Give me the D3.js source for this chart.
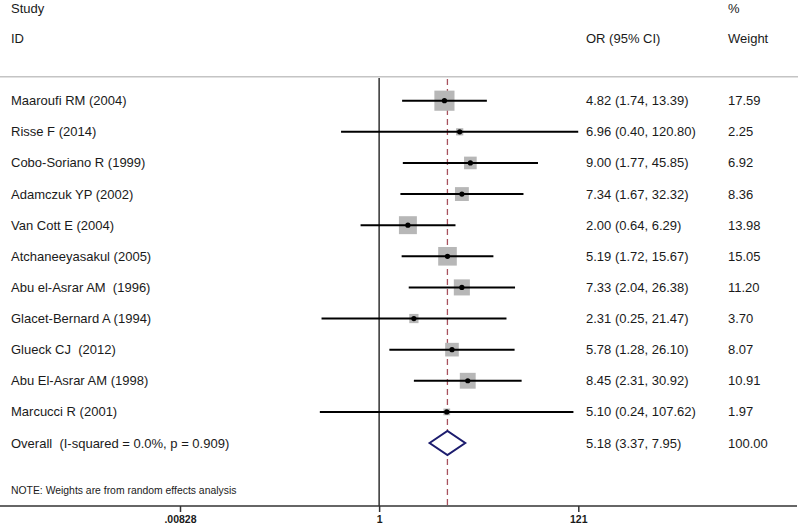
<!DOCTYPE html>
<html>
<head>
<meta charset="utf-8">
<script src="https://cdn.jsdelivr.net/npm/d3@7"></script>
<style>
  html, body { margin: 0; padding: 0; background: #fff; }
  svg { display: block; }
  text { font-family: "Liberation Sans", Arial, sans-serif; fill: #1a1a1a; white-space: pre; }
</style>
</head>
<body>
<svg id="chart" width="800" height="530"></svg>
<script>
// ---- Data ----
const studies = ["Maaroufi RM (2004)", "Risse F (2014)", "Cobo-Soriano R (1999)", "Adamczuk YP (2002)",
  "Van Cott E (2004)", "Atchaneeyasakul (2005)", "Abu el-Asrar AM  (1996)", "Glacet-Bernard A (1994)",
  "Glueck CJ  (2012)", "Abu El-Asrar AM (1998)", "Marcucci R (2001)"];
const oddsRatio = [4.82, 6.96, 9.00, 7.34, 2.00, 5.19, 7.33, 2.31, 5.78, 8.45, 5.10];
const ciLower   = [1.74, 0.40, 1.77, 1.67, 0.64, 1.72, 2.04, 0.25, 1.28, 2.31, 0.24];
const ciUpper   = [13.39, 120.80, 45.85, 32.32, 6.29, 15.67, 26.38, 21.47, 26.10, 30.92, 107.62];
const weights   = [17.59, 2.25, 6.92, 8.36, 13.98, 15.05, 11.20, 3.70, 8.07, 10.91, 1.97];
const overallLabel = "Overall  (I-squared = 0.0%, p = 0.909)";
const overallOR = 5.18, overallLower = 3.37, overallUpper = 7.95, overallWeight = 100.00;
const tickValues = [0.00828, 1, 121];
const tickLabels = [".00828", "1", "121"];
const noteText = "NOTE: Weights are from random effects analysis";

// ---- Layout ----
const svg = d3.select("#chart");
const x = d3.scaleLog().domain([0.00828, 121]).range([180, 578.3]);
const y = d3.scaleLinear().domain([0, 11]).range([100.7, 443]);
const axisY = 506;
const fmt = d3.format(".2f");

// Headers
const hdr = svg.append("g").attr("font-size", 13);
hdr.append("text").attr("x", 11).attr("y", 8).attr("dy", "0.35em").text("Study");
hdr.append("text").attr("x", 11).attr("y", 38).attr("dy", "0.35em").text("ID");
hdr.append("text").attr("x", 586).attr("y", 38).attr("dy", "0.35em").text("OR (95% CI)");
hdr.append("text").attr("x", 728).attr("y", 8).attr("dy", "0.35em").text("%");
hdr.append("text").attr("x", 728).attr("y", 38).attr("dy", "0.35em").text("Weight");

// Separator line
svg.append("line").attr("x1", 0).attr("x2", 798).attr("y1", 76.7).attr("y2", 76.7)
  .attr("stroke", "#c4c4c4").attr("stroke-width", 1.5);

// Null line at 1
svg.append("line").attr("x1", x(1)).attr("x2", x(1)).attr("y1", 78).attr("y2", axisY)
  .attr("stroke", "#111").attr("stroke-width", 1.3);

// Overall dashed line
svg.append("line").attr("x1", x(overallOR)).attr("x2", x(overallOR)).attr("y1", 79).attr("y2", axisY)
  .attr("stroke", "#a8525e").attr("stroke-width", 1.3).attr("stroke-dasharray", "6,4");

// Study rows
const rows = studies.map((s, i) => ({ s, or: oddsRatio[i], lo: ciLower[i], hi: ciUpper[i], w: weights[i], i }));
const g = svg.append("g");
rows.forEach(d => {
  const side = 4.8 * Math.sqrt(d.w);
  g.append("rect").attr("x", x(d.or) - side / 2).attr("y", y(d.i) - side / 2)
    .attr("width", side).attr("height", side).attr("fill", "#b7b7b7");
  g.append("line").attr("x1", x(d.lo)).attr("x2", x(d.hi)).attr("y1", y(d.i)).attr("y2", y(d.i))
    .attr("stroke", "#000").attr("stroke-width", 2);
  g.append("circle").attr("cx", x(d.or)).attr("cy", y(d.i)).attr("r", 2.6).attr("fill", "#000");
  g.append("text").attr("x", 11).attr("y", y(d.i)).attr("dy", "0.35em").attr("font-size", 13).text(d.s);
  g.append("text").attr("x", 586).attr("y", y(d.i)).attr("dy", "0.35em").attr("font-size", 13)
    .text(`${fmt(d.or)} (${fmt(d.lo)}, ${fmt(d.hi)})`);
  g.append("text").attr("x", 728).attr("y", y(d.i)).attr("dy", "0.35em").attr("font-size", 13).text(fmt(d.w));
});

// Overall row
const yo = y(11);
svg.append("path")
  .attr("d", `M${x(overallLower)},${yo} L${x(overallOR)},${yo - 12} L${x(overallUpper)},${yo} L${x(overallOR)},${yo + 12} Z`)
  .attr("fill", "#fff").attr("stroke", "#1c1c6e").attr("stroke-width", 2);
svg.append("text").attr("x", 11).attr("y", yo).attr("dy", "0.35em").attr("font-size", 13).text(overallLabel);
svg.append("text").attr("x", 586).attr("y", yo).attr("dy", "0.35em").attr("font-size", 13)
  .text(`${fmt(overallOR)} (${fmt(overallLower)}, ${fmt(overallUpper)})`);
svg.append("text").attr("x", 728).attr("y", yo).attr("dy", "0.35em").attr("font-size", 13).text(fmt(overallWeight));

// Note
svg.append("text").attr("x", 11).attr("y", 490).attr("dy", "0.35em").attr("font-size", 10.4).text(noteText);

// Axis
const axis = d3.axisBottom(x).tickValues(tickValues).tickFormat((d, i) => tickLabels[i]).tickSize(6).tickSizeOuter(0);
const ag = svg.append("g").attr("transform", `translate(0,${axisY})`).call(axis);
ag.select(".domain").remove();
ag.append("line").attr("x1", 0).attr("x2", 797).attr("y1", 0).attr("y2", 0)
  .attr("stroke", "#333").attr("stroke-width", 1.5);
ag.selectAll(".tick line").attr("stroke", "#333").attr("stroke-width", 1.5);
ag.selectAll(".tick text").attr("font-size", 10.5).attr("font-weight", "bold")
  .attr("font-family", "'Liberation Sans', Arial, sans-serif").attr("fill", "#222").attr("y", 13).attr("dy", "0.35em");
</script>
</body>
</html>
